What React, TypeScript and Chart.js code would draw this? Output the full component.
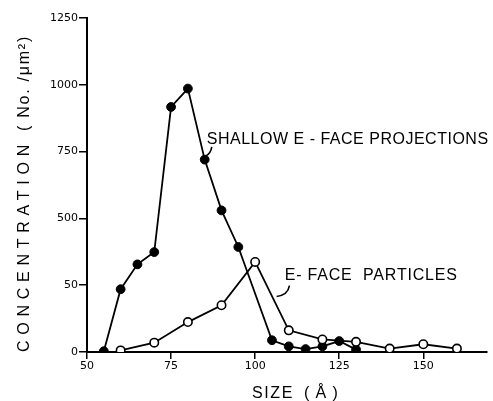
import React, { useEffect, useRef } from "react";
import { Chart, registerables } from "chart.js";

Chart.register(...registerables);

// ---- data ----
const shallowSize = [55, 60, 65, 70, 75, 80, 85, 90, 95, 105, 110, 115, 120, 125, 130];
const shallowConc = [3, 235, 328, 374, 917, 986, 720, 530, 393, 44, 21, 11, 21, 41, 9];

const particleSize = [60, 70, 80, 90, 100, 110, 120, 130, 140, 150, 160];
const particleConc = [6, 35, 112, 175, 337, 81, 47, 38, 13, 29, 13];

const xTickValues = [50, 75, 100, 125, 150];
const yTickValues = [0, 250, 500, 750, 1000, 1250];
const yTickLabels = ["0", "50", "500", "750", "1000", "1250"];

const yTitleMain = "CONCENTRATION";
const yTitleUnit = "( No. /\u03bcm\u00b2)";
const xTitleMain = "SIZE";
const xTitleUnit = "(\u00c5)";
const shallowLabel = "SHALLOW E - FACE PROJECTIONS";
const particleLabel = "E- FACE  PARTICLES";

const TEXT_FONT = '16px "Liberation Sans", Arial, sans-serif';

function drawFitted(ctx: CanvasRenderingContext2D, text: string, x: number, y: number, width: number, font: string) {
  ctx.save();
  ctx.font = font;
  (ctx as any).letterSpacing = "0px";
  const w0 = ctx.measureText(text).width;
  const ls = (width - w0) / Math.max(1, text.length);
  (ctx as any).letterSpacing = ls.toFixed(2) + "px";
  ctx.textAlign = "left";
  ctx.textBaseline = "alphabetic";
  ctx.fillStyle = "#000";
  ctx.fillText(text, x, y);
  ctx.restore();
}

const annotationPlugin = {
  id: "annotationsLike",
  afterDatasetsDraw(chart: any) {
    const ctx: CanvasRenderingContext2D = chart.ctx;
    const xs = chart.scales.x;
    const ys = chart.scales.y;
    const px = (v: number) => xs.getPixelForValue(v);
    const py = (v: number) => ys.getPixelForValue(v);

    // series labels
    drawFitted(ctx, shallowLabel, px(85.6), py(778), 282, TEXT_FONT);
    drawFitted(ctx, particleLabel, px(108.8), py(269), 173, TEXT_FONT);

    // leader lines
    ctx.save();
    ctx.strokeStyle = "#000";
    ctx.lineWidth = 1.6;
    ctx.beginPath();
    ctx.moveTo(px(87.1), py(768));
    ctx.quadraticCurveTo(px(86.8), py(744), px(85.4), py(734));
    ctx.stroke();
    ctx.beginPath();
    ctx.moveTo(px(110.2), py(248));
    ctx.quadraticCurveTo(px(109.7), py(212), px(106.4), py(208));
    ctx.stroke();
    ctx.restore();

    // axis titles
    const area = chart.chartArea;
    ctx.save();
    ctx.translate(29, area.bottom);
    ctx.rotate(-Math.PI / 2);
    drawFitted(ctx, yTitleMain, 0, 0, 213, TEXT_FONT);
    drawFitted(ctx, yTitleUnit, 221, 0, 96, TEXT_FONT);
    ctx.restore();

    drawFitted(ctx, xTitleMain, 252, 398, 42, TEXT_FONT);
    drawFitted(ctx, xTitleUnit, 304, 398, 40, TEXT_FONT);
  },
};

export default function App() {
  const ref = useRef<HTMLCanvasElement | null>(null);

  useEffect(() => {
    if (!ref.current) return;
    const chart = new Chart(ref.current, {
      type: "line",
      data: {
        datasets: [
          {
            label: "E-FACE PARTICLES",
            data: particleSize.map((s, i) => ({ x: s, y: particleConc[i] })),
            borderColor: "#000",
            borderWidth: 1.8,
            pointRadius: 4.2,
            pointBorderWidth: 1.6,
            pointBackgroundColor: "#fff",
            pointBorderColor: "#000",
            tension: 0,
            fill: false,
          },
          {
            label: "SHALLOW E-FACE PROJECTIONS",
            data: shallowSize.map((s, i) => ({ x: s, y: shallowConc[i] })),
            borderColor: "#000",
            borderWidth: 1.8,
            pointRadius: 4.4,
            pointBorderWidth: 1,
            pointBackgroundColor: "#000",
            pointBorderColor: "#000",
            tension: 0,
            fill: false,
          },
        ],
      },
      options: {
        animation: false,
        responsive: false,
        devicePixelRatio: 1,
        layout: { padding: { top: 18, right: 1, left: 0, bottom: 0 } },
        plugins: {
          legend: { display: false },
          tooltip: { enabled: false },
        },
        scales: {
          x: {
            type: "linear",
            min: 50,
            max: 169,
            afterBuildTicks: (s: any) => {
              s.ticks = xTickValues.map((v) => ({ value: v }));
            },
            afterFit: (s: any) => {
              s.height = 49;
            },
            ticks: {
              color: "#000",
              padding: 1,
              maxRotation: 0,
              font: { family: '"DejaVu Sans", sans-serif', size: 11 },
              callback: (v: any) => String(v),
            },
            grid: {
              drawOnChartArea: false,
              drawTicks: true,
              tickLength: 7,
              color: "#000",
              lineWidth: 1.5,
            },
            border: { display: true, color: "#000", width: 2 },
          },
          y: {
            type: "linear",
            min: 0,
            max: 1250,
            afterBuildTicks: (s: any) => {
              s.ticks = yTickValues.map((v) => ({ value: v }));
            },
            afterFit: (s: any) => {
              s.width = 87;
            },
            ticks: {
              color: "#000",
              padding: 1,
              font: { family: '"DejaVu Sans", sans-serif', size: 11 },
              callback: (_v: any, i: number) => yTickLabels[i],
            },
            grid: {
              drawOnChartArea: false,
              drawTicks: true,
              tickLength: 8,
              color: "#000",
              lineWidth: 1.5,
            },
            border: { display: true, color: "#000", width: 2 },
          },
        },
      },
      plugins: [annotationPlugin],
    } as any);
    return () => chart.destroy();
  }, []);

  return (
    <div style={{ position: "fixed", left: 0, top: 0, width: 493, height: 401, background: "#fff" }}>
      <canvas ref={ref} width={493} height={401} style={{ display: "block" }} />
    </div>
  );
}
